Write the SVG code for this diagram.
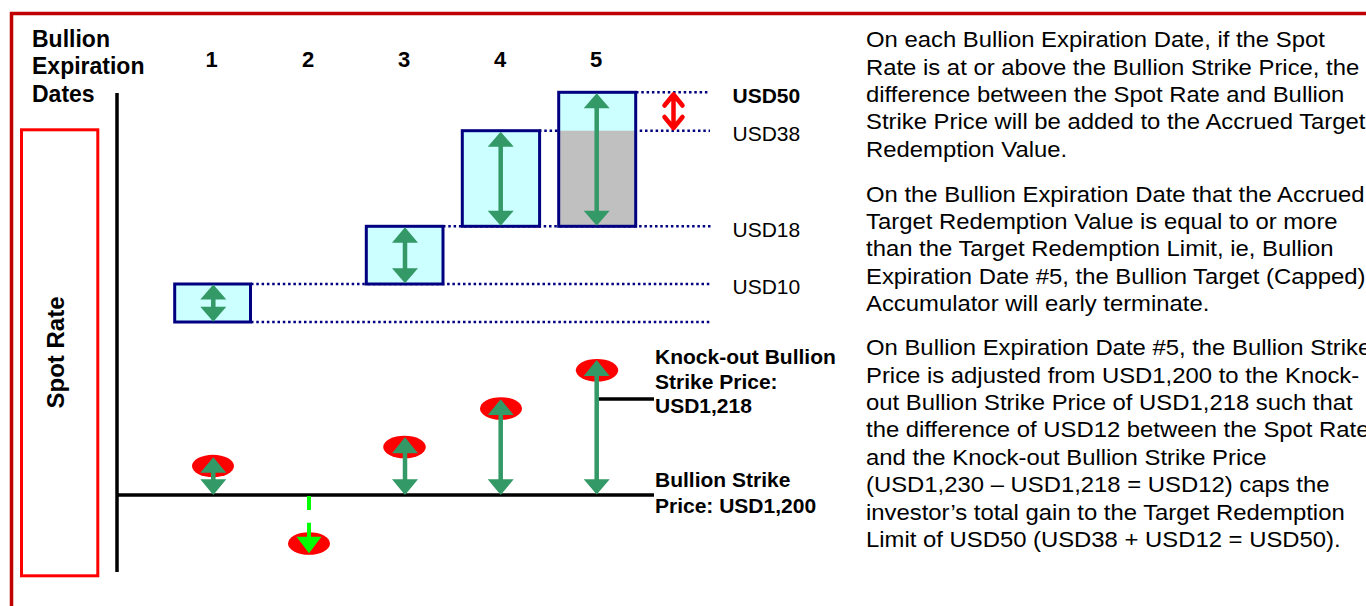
<svg xmlns="http://www.w3.org/2000/svg" width="1366" height="606" viewBox="0 0 1366 606">
<style>
text{font-family:"Liberation Sans",Arial,sans-serif;fill:#000}
.b{font-weight:bold}
.dot{stroke:#000080;stroke-width:2.5;stroke-dasharray:2.5 2.8;fill:none}
.box{fill:#CCFFFF;stroke:#000080;stroke-width:3}
.gs{stroke:#339966;stroke-width:4.5;fill:none}
.gh{fill:#339966}
.ell{fill:#FF0000}
.ax{stroke:#000;stroke-width:3.5;fill:none}
.para{font-size:21.5px}
</style>
<rect x="11.5" y="13.5" width="1400" height="700" fill="none" stroke="#C00000" stroke-width="3.5"/>

<g id="spot-rate-label">
<rect x="21.5" y="129.8" width="76.3" height="446" fill="none" stroke="#FF0000" stroke-width="3"/>
<text class="b" font-size="24" transform="translate(64,352.5) rotate(-90)" text-anchor="middle">Spot Rate</text>
</g>

<g id="dates-label">
<text class="b" font-size="23" x="32" y="46.5">Bullion</text>
<text class="b" font-size="23" x="32" y="74">Expiration</text>
<text class="b" font-size="23" x="32" y="101.5">Dates</text>
</g>

<g id="date-numbers" class="b" font-size="22" text-anchor="middle">
<text x="211.5" y="66.5">1</text>
<text x="308" y="66.5">2</text>
<text x="404" y="66.5">3</text>
<text x="500" y="66.5">4</text>
<text x="596" y="66.5">5</text>
</g>

<g id="levels">
<path class="dot" d="M636,92.3H710M539,130.7H710M443,226.3H712M251,284H710M251,322H710"/>
</g>

<g id="box1"><rect class="box" x="174.7" y="284" width="75.8" height="38"/></g>
<g id="box3"><rect class="box" x="366.3" y="226.3" width="76.7" height="57.7"/></g>
<g id="box4"><rect class="box" x="462.3" y="130.7" width="77.3" height="95.6"/></g>
<g id="box5">
<rect x="558.7" y="92.3" width="77" height="134" fill="#CCFFFF"/>
<rect x="558.7" y="130.7" width="77" height="95.6" fill="#C0C0C0"/>
<rect x="558.7" y="92.3" width="77" height="134" fill="none" stroke="#000080" stroke-width="3"/>
</g>

<g id="level-labels" font-size="21">
<text class="b" x="732.5" y="103.3">USD50</text>
<text x="732.5" y="141">USD38</text>
<text x="732.5" y="236.7">USD18</text>
<text x="732.5" y="294">USD10</text>
</g>

<g id="strike-labels" class="b" font-size="21">
<text x="655" y="364">Knock-out Bullion</text>
<text x="655" y="388.5">Strike Price:</text>
<text x="655" y="413">USD1,218</text>
<text x="655" y="487">Bullion Strike</text>
<text x="655" y="513">Price: USD1,200</text>
</g>

<g id="spot-markers">
<ellipse class="ell" cx="213" cy="466" rx="21" ry="11.2"/>
<ellipse class="ell" cx="309" cy="543.5" rx="21" ry="11.3"/>
<ellipse class="ell" cx="404.5" cy="447" rx="21.3" ry="11.3"/>
<ellipse class="ell" cx="501" cy="408.5" rx="21" ry="11.3"/>
<ellipse class="ell" cx="597" cy="370.3" rx="21.2" ry="11.3"/>
</g>

<g id="connectors">
<path class="ax" d="M117,93V572M117,495H654M597.3,399H654"/>
<path d="M664.5,105.5L673.5,94.5L682.5,105.5M673.5,95V128M664.5,117L673.5,128L682.5,117" fill="none" stroke="#FF0000" stroke-width="4.5" stroke-linecap="round" stroke-linejoin="round"/>
<path class="gs" d="M213.3,296V310M405,238V273M500.7,142V216M596.7,104V216"/>
<path class="gh" d="M213.3,284.5L200.3,299.5H226.3ZM213.3,321.7L200.3,306.7H226.3Z
M405,227.3L392,242.7H418ZM405,283.3L392,268.3H418Z
M500.7,131.7L487.7,146.7H513.7ZM500.7,225.7L487.7,210.7H513.7Z
M596.7,93.3L583.7,108.3H609.7ZM596.7,225.7L583.7,210.7H609.7Z"/>
<path class="gs" d="M213.3,468V484M405,448V484M500.7,410V484M596.7,371V484"/>
<path class="gh" d="M213.3,457.3L200.3,472.7H226.3ZM213.3,495L200.3,479.3H226.3Z
M405,437.3L392,453.3H418ZM405,495L392,479.3H418Z
M500.7,399.3L487.7,415H513.7ZM500.7,495L487.7,479.3H513.7Z
M596.7,360L583.7,376H609.7ZM596.7,494.5L583.7,479.3H609.7Z"/>
<path d="M309,496V510M309,522.7V538" stroke="#00FF00" stroke-width="4" fill="none"/>
<path d="M309,553.3L296.5,536.7H321.5Z" fill="#00FF00"/>
</g>

<g id="explanation" class="para" transform="translate(866,0) scale(1.11,1)">
<text x="0" y="47.3">On each Bullion Expiration Date, if the Spot</text>
<text x="0" y="74.7">Rate is at or above the Bullion Strike Price, the</text>
<text x="0" y="102.1">difference between the Spot Rate and Bullion</text>
<text x="0" y="129.5">Strike Price will be added to the Accrued Target</text>
<text x="0" y="156.9">Redemption Value.</text>
<text x="0" y="201.7">On the Bullion Expiration Date that the Accrued</text>
<text x="0" y="229.1">Target Redemption Value is equal to or more</text>
<text x="0" y="256.5">than the Target Redemption Limit, ie, Bullion</text>
<text x="0" y="283.9">Expiration Date #5, the Bullion Target (Capped)</text>
<text x="0" y="311.3">Accumulator will early terminate.</text>
<text x="0" y="355.2">On Bullion Expiration Date #5, the Bullion Strike</text>
<text x="0" y="382.6">Price is adjusted from USD1,200 to the Knock-</text>
<text x="0" y="410">out Bullion Strike Price of USD1,218 such that</text>
<text x="0" y="437.4">the difference of USD12 between the Spot Rate</text>
<text x="0" y="464.8">and the Knock-out Bullion Strike Price</text>
<text x="0" y="492.2">(USD1,230 – USD1,218 = USD12) caps the</text>
<text x="0" y="519.6">investor’s total gain to the Target Redemption</text>
<text x="0" y="547">Limit of USD50 (USD38 + USD12 = USD50).</text>
</g>
</svg>
